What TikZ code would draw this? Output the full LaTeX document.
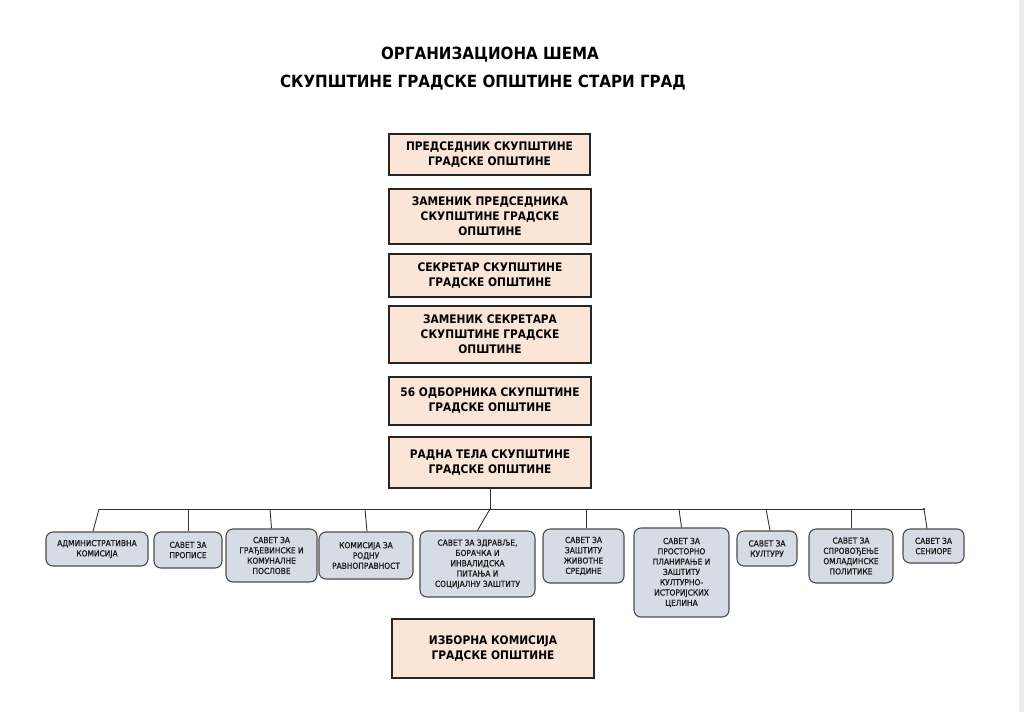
\documentclass[tikz,border=0pt]{standalone}
\usepackage{fontspec}
\setmainfont{DejaVu Sans Condensed}[BoldFont={DejaVu Sans Condensed Bold}]
\newfontfamily\subfont{DejaVu Sans Condensed}[FakeBold=0.9]
\definecolor{peach}{HTML}{FBE5D6}
\definecolor{slate}{HTML}{D6DCE5}
\begin{document}
\begin{tikzpicture}[x=1pt,y=-1pt,
  titletext/.style={font=\bfseries\fontsize{16.8}{20}\selectfont, text=black, inner sep=0pt},
  mainbox/.style={draw=black!85, line width=1.6pt, fill=peach, inner sep=0pt, align=center,
    font=\bfseries\fontsize{11.8}{15}\selectfont, text=black},
  subbox/.style={draw=black!70, line width=1.1pt, fill=slate, rounded corners=7pt, inner sep=0pt,
    align=center, font=\subfont\fontsize{8.3}{10.3}\selectfont, text=black!90},
  link/.style={draw=black!80, line width=0.9pt}]
\useasboundingbox (0,0) rectangle (1024,712);
\fill[white] (0,0) rectangle (1024,712);
\fill[black!7] (1019,0) rectangle (1024,712);

\node[titletext] (t1) at (490,55) {ОРГАНИЗАЦИОНА ШЕМА};
\node[titletext] (t2) at (483,83) {СКУПШТИНЕ ГРАДСКЕ ОПШТИНЕ СТАРИ ГРАД};

\node[mainbox, minimum width=201pt, minimum height=41pt] (m1) at (489.5,154.5) {ПРЕДСЕДНИК СКУПШТИНЕ\\ГРАДСКЕ ОПШТИНЕ};
\node[mainbox, minimum width=202pt, minimum height=55pt] (m2) at (490,216.5) {ЗАМЕНИК ПРЕДСЕДНИКА\\СКУПШТИНЕ ГРАДСКЕ\\ОПШТИНЕ};
\node[mainbox, minimum width=202pt, minimum height=43pt] (m3) at (490,275.5) {СЕКРЕТАР СКУПШТИНЕ\\ГРАДСКЕ ОПШТИНЕ};
\node[mainbox, minimum width=202pt, minimum height=57pt] (m4) at (490,334.5) {ЗАМЕНИК СЕКРЕТАРА\\СКУПШТИНЕ ГРАДСКЕ\\ОПШТИНЕ};
\node[mainbox, minimum width=202pt, minimum height=48pt] (m5) at (490,401) {56 ОДБОРНИКА СКУПШТИНЕ\\ГРАДСКЕ ОПШТИНЕ};
\node[mainbox, minimum width=202pt, minimum height=51pt] (m6) at (490,462.5) {РАДНА ТЕЛА СКУПШТИНЕ\\ГРАДСКЕ ОПШТИНЕ};
\node[mainbox, minimum width=202pt, minimum height=59pt] (m7) at (493,648.5) {ИЗБОРНА КОМИСИЈА\\ГРАДСКЕ ОПШТИНЕ};

\node[subbox, minimum width=102pt, minimum height=34pt] (cA) at (97,549) {АДМИНИСТРАТИВНА\\КОМИСИЈА};
\node[subbox, minimum width=68pt, minimum height=36pt] (cB) at (188,550) {САВЕТ ЗА\\ПРОПИСЕ};
\node[subbox, minimum width=91pt, minimum height=53pt] (cC) at (271.5,555.5) {САВЕТ ЗА\\ГРАЂЕВИНСКЕ И\\КОМУНАЛНЕ\\ПОСЛОВЕ};
\node[subbox, minimum width=94pt, minimum height=47pt] (cD) at (366,555.5) {КОМИСИЈА ЗА\\РОДНУ\\РАВНОПРАВНОСТ};
\node[subbox, minimum width=115pt, minimum height=66pt] (cE) at (477.5,564) {САВЕТ ЗА ЗДРАВЉЕ,\\БОРАЧКА И\\ИНВАЛИДСКА\\ПИТАЊА И\\СОЦИЈАЛНУ ЗАШТИТУ};
\node[subbox, minimum width=81pt, minimum height=54pt] (cF) at (583.5,556) {САВЕТ ЗА\\ЗАШТИТУ\\ЖИВОТНЕ\\СРЕДИНЕ};
\node[subbox, minimum width=95pt, minimum height=89pt] (cG) at (681.5,572.5) {САВЕТ ЗА\\ПРОСТОРНО\\ПЛАНИРАЊЕ И\\ЗАШТИТУ\\КУЛТУРНО-\\ИСТОРИЈСКИХ\\ЦЕЛИНА};
\node[subbox, minimum width=60pt, minimum height=35pt] (cH) at (767,548.5) {САВЕТ ЗА\\КУЛТУРУ};
\node[subbox, minimum width=84pt, minimum height=54pt] (cI) at (851,556) {САВЕТ ЗА\\СПРОВОЂЕЊЕ\\ОМЛАДИНСКЕ\\ПОЛИТИКЕ};
\node[subbox, minimum width=61pt, minimum height=34pt] (cJ) at (933.5,546) {САВЕТ ЗА\\СЕНИОРЕ};

% bus
\coordinate (busL) at (99,509);
\coordinate (busR) at (924,509);
\coordinate (bA) at (99,509);
\coordinate (bB) at (188,509);
\coordinate (bC) at (270,509);
\coordinate (bD) at (365,509);
\coordinate (bE) at (490,509);
\coordinate (bF) at (586,509);
\coordinate (bG) at (679,509);
\coordinate (bH) at (766,509);
\coordinate (bI) at (851,509);
\coordinate (bJ) at (924,509);

\draw[link] (m6.south) -- (bE);
\draw[link] (busL) -- (busR);
\fill[black!80] (busR) circle (1.1pt);
\draw[link] (bA) -- ([xshift=-4pt]cA.north);
\draw[link] (bB) -- (cB.north);
\draw[link] (bC) -- (cC.north);
\draw[link] (bD) -- ([xshift=1pt]cD.north);
\draw[link] (bE) -- (cE.north);
\draw[link] (bF) -- ([xshift=2.5pt]cF.north);
\draw[link] (bG) -- (cG.north);
\draw[link] (bH) -- ([xshift=3pt]cH.north);
\draw[link] (bI) -- (cI.north);
\draw[link] (bJ) -- ([xshift=-6.5pt]cJ.north);
\end{tikzpicture}
\end{document}
